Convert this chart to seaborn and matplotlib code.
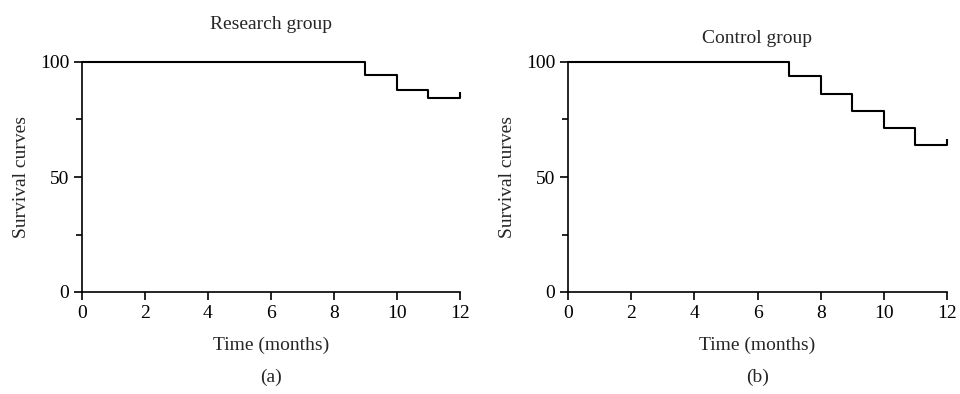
import matplotlib
matplotlib.use("Agg")
import matplotlib.pyplot as plt
import seaborn as sns
import pandas as pd
from matplotlib.ticker import MultipleLocator

# survival step data
research_time = [0, 9, 10, 11, 12]
research_surv = [100, 94.5, 87.8, 84.2, 84.2]
control_time = [0, 7, 8, 9, 10, 11, 12]
control_surv = [100, 93.8, 86.0, 78.7, 71.2, 63.9, 63.9]
censor_time = 12
x_ticks = [0, 2, 4, 6, 8, 10, 12]
y_ticks = [0, 50, 100]

sns.set_theme(style="ticks")
plt.rcParams['font.family'] = ['Liberation Serif', 'DejaVu Serif']
FS = 14

fig = plt.figure(figsize=(9.6, 3.94), dpi=100)
W, H = 960, 394


def make_axes(x0, x1, y_top, y_bot):
    return fig.add_axes([x0 / W, (H - y_bot) / H, (x1 - x0) / W, (y_bot - y_top) / H])


def draw_panel(ax, times, surv, title, title_pad, tag):
    df = pd.DataFrame({"time": times, "surv": surv})
    sns.lineplot(data=df, x="time", y="surv", ax=ax, drawstyle="steps-post",
                 color="black", linewidth=1.5, clip_on=False)
    # censor tick at the end of follow-up
    ax.vlines(censor_time, surv[-1], surv[-1] + 2.6, color="black", linewidth=1.5, clip_on=False)
    ax.set_xlim(0, 12)
    ax.set_ylim(0, 100)
    ax.set_xticks(x_ticks)
    ax.set_yticks(y_ticks)
    ax.yaxis.set_minor_locator(MultipleLocator(25))
    ax.tick_params(axis="both", which="major", direction="out", length=6, width=1.2,
                   labelsize=FS, pad=3, color="black", labelcolor="black",
                   bottom=True, left=True)
    ax.tick_params(axis="y", which="minor", direction="out", length=4, width=1.2,
                   color="black", left=True)
    for side in ["top", "right"]:
        ax.spines[side].set_visible(False)
    for side in ["left", "bottom"]:
        ax.spines[side].set_linewidth(1.2)
        ax.spines[side].set_color("black")
    ax.set_xlabel("Time (months)", fontsize=FS, labelpad=11)
    ax.set_ylabel("Survival curves", fontsize=FS, labelpad=7)
    ax.set_title(title, fontsize=FS, pad=title_pad)
    ax.text(0.5, -0.335, tag, transform=ax.transAxes, ha="center", va="top", fontsize=FS)


ax1 = make_axes(82, 460, 62, 292)
draw_panel(ax1, research_time, research_surv, "Research group", 24, "(a)")

ax2 = make_axes(568, 947, 62, 292)
draw_panel(ax2, control_time, control_surv, "Control group", 14, "(b)")

fig.savefig("out.png", dpi=100)
